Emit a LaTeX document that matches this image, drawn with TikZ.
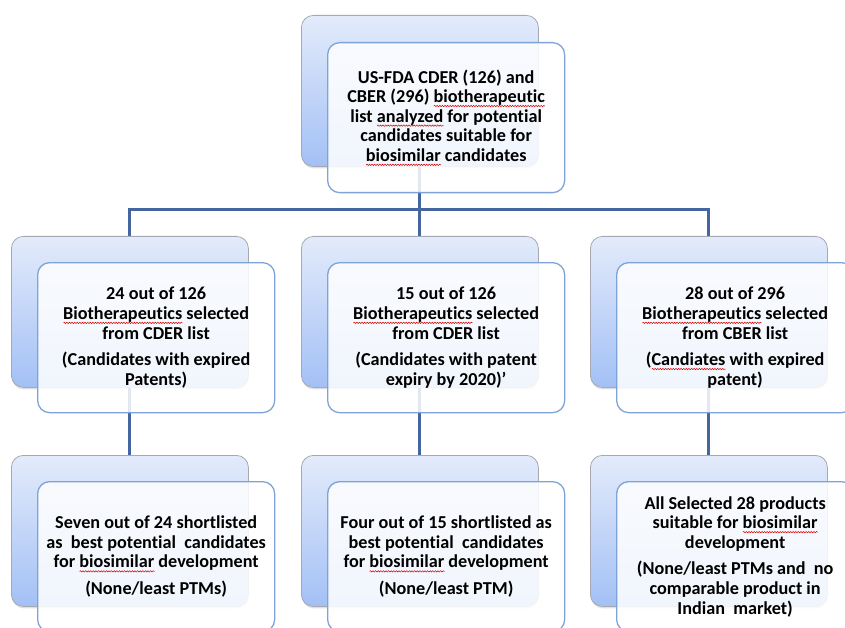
\documentclass[tikz,border=0pt]{standalone}
\usepackage{fontspec}
\setmainfont{Carlito}[Ligatures=NoCommon]
\usetikzlibrary{shadows,decorations.pathmorphing}
\newsavebox\spwbox
\newlength\spwlen
\newcommand\spw[1]{\sbox\spwbox{#1}\setlength\spwlen{\wd\spwbox}\leavevmode\rlap{\tikz[baseline=0pt,x=1pt,y=1pt]{\path (0,0); \draw[red!85!black, line width=0.5pt, decorate, decoration={snake, amplitude=0.7pt, segment length=2.6pt}] (0,-3.4) -- (\spwlen,-3.4);}}\usebox\spwbox}
\definecolor{conncol}{HTML}{44659F}
\definecolor{backtop}{HTML}{E3EBFB}
\definecolor{backbot}{HTML}{A3C0F5}
\definecolor{backedge}{HTML}{A6A9B0}
\definecolor{frontedge}{HTML}{7EA3D6}
\pgfdeclarelayer{bg}
\pgfsetlayers{bg,main}
\tikzset{
  backbox/.style={draw=backedge, line width=0.8pt, rounded corners=12pt,
    top color=backtop, bottom color=backbot,
    drop shadow={shadow xshift=0.5pt, shadow yshift=-2pt, opacity=0.25},
    minimum width=237pt, minimum height=151pt, anchor=north west, inner sep=0pt},
  frontbox/.style={draw=frontedge, line width=1.3pt, rounded corners=12pt,
    fill=white, fill opacity=0.85, draw opacity=1,
    minimum width=237pt, minimum height=150pt, anchor=north west, inner sep=0pt},
  txt/.style={font=\bfseries\fontsize{18.2}{19.6}\selectfont, align=center, text=black},
  connline/.style={draw=conncol, line width=3pt}
}
\begin{document}
\begin{tikzpicture}[x=1pt,y=-1pt]
\clip (0,0) rectangle (845,628);
\useasboundingbox (0,0) rectangle (845,628);
% back boxes
\node[backbox] (b0) at (301,15) {};
\node[backbox] (b1) at (11,236) {};
\node[backbox] (b2) at (301,236) {};
\node[backbox] (b3) at (590,236) {};
\node[backbox] (c1) at (11,455) {};
\node[backbox] (c2) at (301,455) {};
\node[backbox] (c3) at (590,455) {};
% front boxes
\node[frontbox] (f0) at (327,42) {};
\node[frontbox] (f1) at (37,262) {};
\node[frontbox] (f2) at (327,262) {};
\node[frontbox] (f3) at (616,262) {};
\node[frontbox] (g1) at (37,481) {};
\node[frontbox] (g2) at (327,481) {};
\node[frontbox] (g3) at (616,481) {};
% connectors
\coordinate (bar) at (0,210);
\begin{pgfonlayer}{bg}
\draw[connline] (b0.center) -- (b2.center);
\draw[connline, line join=miter] (b1.center) -- (b1.center |- bar) -- (b3.center |- bar) -- (b3.center);
\draw[connline] (b1.center) -- (c1.center);
\draw[connline] (b2.center) -- (c2.center);
\draw[connline] (b3.center) -- (c3.center);
\end{pgfonlayer}
% texts
\node[txt] (t0) at (f0.center) {US-FDA CDER (126) and\\ CBER (296) \spw{biotherapeutic}\\ list \spw{analyzed} for potential\\ candidates suitable for\\ \spw{biosimilar} candidates};
\node[txt] (t1) at (f1.center) {24 out of 126\\ \spw{Biotherapeutics} selected\\ from CDER list\\[7pt] (Candidates with expired\\ Patents)};
\node[txt] (t2) at (f2.center) {15 out of 126\\ \spw{Biotherapeutics} selected\\ from CDER list\\[7pt] (Candidates with patent\\ expiry by 2020)’};
\node[txt] (t3) at (f3.center) {28 out of 296\\ \spw{Biotherapeutics} selected\\ from CBER list\\[7pt] (\spw{Candiates} with expired\\ patent)};
\node[txt] (u1) at (g1.center) {Seven out of 24 shortlisted\\ as~ best potential~ candidates\\ for \spw{biosimilar} development\\[7pt] (None/least PTMs)};
\node[txt] (u2) at (g2.center) {Four out of 15 shortlisted as\\ best potential~ candidates\\ for \spw{biosimilar} development\\[7pt] (None/least PTM)};
\node[txt] (u3) at (g3.center) {All Selected 28 products\\ suitable for \spw{biosimilar}\\ development\\[7pt] (None/least PTMs and~ no\\ comparable product in\\ Indian~ market)};
\end{tikzpicture}
\end{document}
